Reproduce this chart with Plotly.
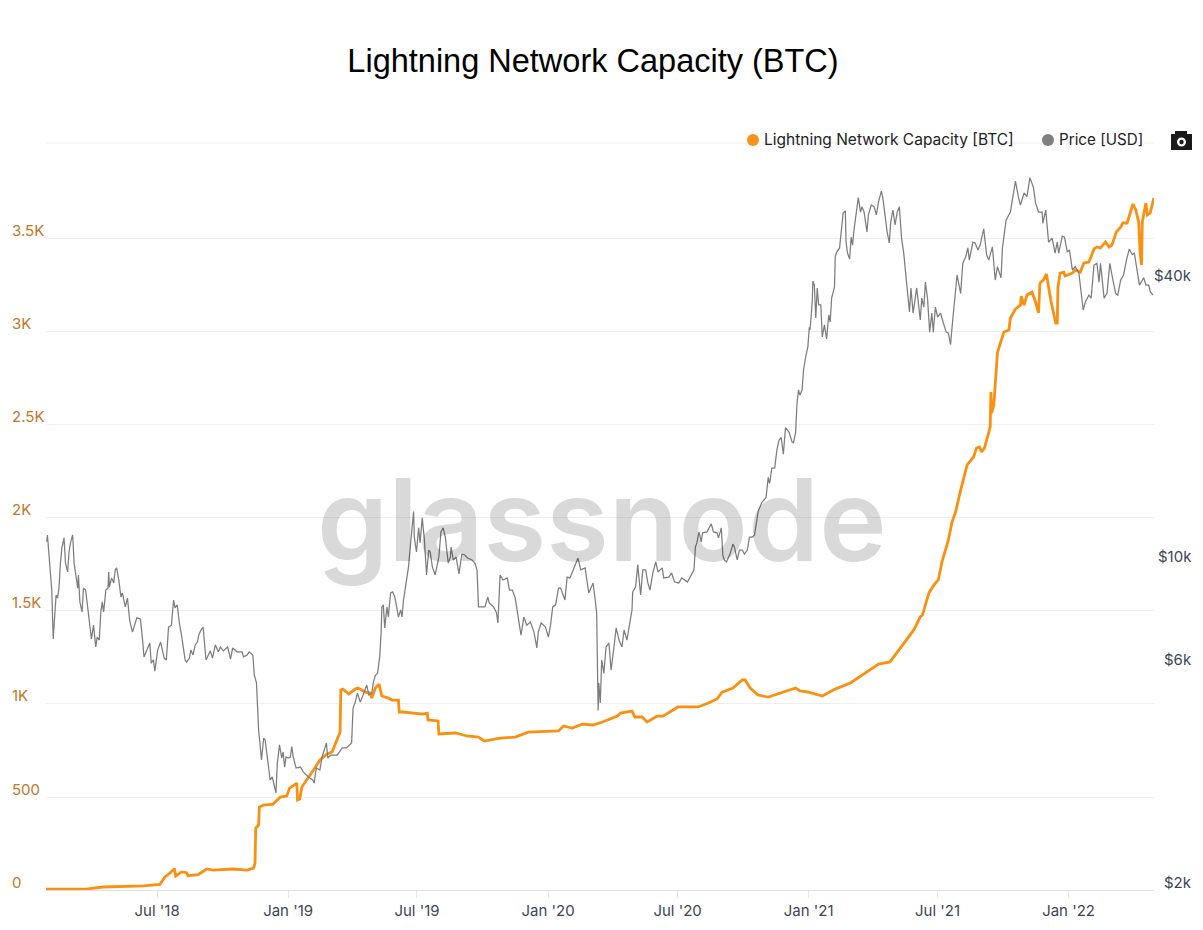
import numpy as np
import pandas as pd
import plotly.graph_objects as go

TITLE = "Lightning Network Capacity (BTC)"
START = "2018-01-26"
END = "2022-05-01"
DAY_UNIT = 1.0122

capacity_days = [0,56,79,135,158,165,172,178,180,188,195,197,211,223,232,260,279,288,290,291,295,296,302,315,325,334,338,348,349,352,355,364,373,380,390,397,406,408,409,412,420,429,433,443,450,452,457,462,466,475,480,489,490,495,523,529,530,544,545,568,584,600,608,630,651,669,711,718,730,744,759,772,793,797,813,817,827,834,848,856,877,905,919,931,938,953,966,970,977,988,1002,1033,1040,1046,1058,1077,1095,1116,1133,1155,1171,1185,1196,1204,1213,1216,1220,1225,1232,1238,1243,1252,1257,1262,1269,1278,1287,1291,1295,1298,1302,1308,1310,1311,1312,1315,1317,1320,1322,1329,1336,1338,1345,1352,1353,1357,1361,1368,1373,1377,1379,1384,1388,1394,1401,1403,1404,1407,1412,1414,1424,1428,1435,1440,1447,1454,1458,1463,1470,1475,1479,1485,1491,1494,1500,1505,1508,1512,1516,1518,1520,1521,1526,1528,1532,1537]
capacity_btc = [5,5,16,22,30,70,91,115,75,97,93,77,82,113,107,113,107,118,145,333,349,446,457,462,500,505,548,575,484,489,554,602,656,699,731,742,822,849,1075,1080,1054,1080,1086,1064,1059,1032,1086,1107,1043,1032,1021,1021,957,957,946,951,914,909,839,844,828,822,801,817,822,849,855,882,871,892,887,903,935,951,962,930,930,903,935,935,984,984,1005,1027,1064,1086,1129,1129,1086,1048,1037,1080,1086,1070,1064,1043,1080,1113,1156,1215,1226,1300,1355,1398,1468,1478,1532,1597,1640,1667,1763,1882,1978,2032,2150,2285,2328,2376,2382,2355,2376,2473,2489,2677,2564,2607,2742,2887,2914,3000,3011,3075,3123,3145,3193,3145,3199,3215,3161,3102,3263,3280,3312,3172,3048,3048,3242,3317,3322,3301,3317,3333,3322,3371,3376,3446,3457,3452,3484,3457,3468,3538,3564,3586,3586,3645,3688,3656,3591,3425,3360,3591,3693,3629,3640,3720]

price_days = [1,2,5,7,8,10,12,14,16,18,20,22,25,27,30,32,34,37,39,42,44,45,47,50,52,55,57,60,63,66,69,71,74,76,78,80,83,86,87,88,91,94,96,98,101,104,106,110,113,116,120,126,131,134,136,139,144,146,149,151,155,159,164,167,170,174,177,179,182,185,188,193,195,199,201,204,207,210,212,215,218,222,228,231,235,239,242,246,252,256,259,265,272,274,279,282,287,289,292,
295,296,299,302,304,307,311,314,319,321,324,327,329,331,333,336,339,341,343,347,353,357,364,370,372,375,380,383,387,389,391,395,404,411,417,422,424,426,429,432,436,440,445,448,452,
454,457,460,463,465,466,468,470,473,475,478,481,484,487,489,492,494,496,500,503,505,508,510,511,514,517,519,522,525,528,531,533,536,540,545,548,551,554,558,561,562,565,569,573,577,581,585,591,595,598,600,603,609,613,615,621,625,627,630,634,640,643,647,651,654,659,663,667,672,677,681,683,687,693,697,700,703,707,711,714,720,723,727,733,738,742,748,753,759,762,764,
766,767,769,771,774,777,781,784,788,791,795,799,802,806,810,813,
814,818,821,825,828,832,835,838,842,846,849,855,857,864,868,872,878,882,890,896,899,901,903,906,909,911,917,923,926,931,933,937,939,941,944,949,953,955,959,962,966,969,973,976,980,983,986,988,993,999,1002,1004,1007,1011,1014,1017,1020,1023,1026,1031,1035,1037,1040,1042,
1044,1046,1049,1051,1054,1057,1059,1060,1063,1064,1066,1068,1070,1072,1075,1077,1080,1083,1086,1088,1090,1094,1095,1097,1101,1103,1106,1109,1110,1112,1115,1117,1119,1121,1125,1127,1130,1132,1135,1139,1141,1145,1149,1152,1155,1159,1161,1164,1167,1170,1172,1175,1178,1181,1184,1187,1190,1193,1196,1198,1200,1203,1208,1211,1213,1215,1218,1220,1223,1226,1229,1231,1234,1237,1241,1245,1249,1252,1255,1257,1259,1262,1264,1269,1272,1276,1279,
1281,1286,1289,1293,1296,1301,1305,1308,1313,1317,1320,1325,1327,1330,1332,1338,1341,1345,1349,1352,1357,1361,1365,1370,1373,1377,1382,1383,1387,1391,1396,1400,1403,1405,1410,1413,1417,1420,1424,1428,1433,1439,1442,1447,1450,1454,1458,1461,1463,1468,1472,1476,1479,1484,1487,1491,1495,1499,1503,1507,1510,1514,1517,1523,1526,1530,1532,1536]
price_usd = [10750,11120,9680,8810,8470,6650,7380,8265,8140,8550,9680,10420,10960,9680,9260,10220,10690,11120,9680,9030,8550,9125,7985,7600,8550,8470,7985,7410,6650,7120,6390,6710,6614,7570,7985,7600,8470,8550,9260,8590,8990,8770,9355,9450,8900,8180,8350,7790,8140,7305,6880,7380,7340,6614,6085,6240,6520,5900,5995,5670,6300,6550,6050,5995,7050,7120,8062,7750,7870,7200,6780,5995,5930,6050,6300,6145,6455,6550,6780,6950,7050,5995,6270,6050,6455,6240,6390,6270,6390,6020,6360,6240,6240,6085,6145,6240,6145,5558,5350,
4240,4096,3656,4075,4035,3710,3312,3361,3106,3602,3938,3692,3803,3530,3710,3692,3710,3905,3710,3513,3530,3446,3361,3312,3262,3513,3480,3710,3880,3975,3692,3746,3746,3880,3880,3938,3975,4726,4867,5090,4867,5040,5296,5040,5090,
5350,5558,5610,6085,6880,7790,7870,7020,7790,7410,8350,8390,8180,7750,7410,7680,7410,8062,8900,9510,10320,11400,12480,11000,10220,11520,10690,12100,10850,9125,10320,10220,9510,9125,9970,11290,11520,11000,9680,9970,10480,9825,9970,9170,10120,10070,9920,9825,9680,9355,7790,7790,7790,8180,7950,7790,7570,7200,9125,8900,8990,8470,8470,8140,7570,6780,7410,7120,7230,6880,6360,6880,7200,7050,6710,7120,7790,7870,8550,8550,8062,9030,8990,9510,9920,9355,9450,8350,8770,8062,7570,
4670,5350,4846,5995,5610,6390,6520,5697,6390,7020,6614,6390,6950,6614,7200,7680,
8390,8590,9590,8265,9355,9355,8770,8470,9215,9730,9260,9450,8990,9030,9215,8810,8770,8990,8810,9215,9355,10480,10690,11290,10740,11240,11290,11750,11290,11240,10960,11520,10070,9825,9730,10120,10630,10480,9825,10320,10320,10120,10320,11000,11000,11120,11810,12480,13050,13380,14780,14340,15480,15480,16920,17780,18000,16570,18900,18470,17620,17540,18470,21350,
22780,22200,22780,25130,26800,28180,31040,30630,35000,39000,38230,32500,37700,34680,34680,29590,31400,29290,33000,31850,35860,37900,44000,45000,45950,49460,54600,55130,47300,44800,43500,48450,46600,50200,55420,58900,54880,56300,54880,49700,54100,56800,56300,54100,57650,60850,58900,53500,49700,47100,52200,55420,51500,54880,56300,48200,44800,40100,35860,33480,37700,33300,37700,33810,32170,35860,34300,38800,35860,30300,33300,30300,34300,32650,33300,31700,30300,30150,28500,31000,33810,37900,40200,36700,42600,44000,45950,
43280,47300,47100,45480,46600,50500,44450,43280,46200,39200,41900,39650,45950,50200,52730,54880,59200,63900,59200,56800,60300,59200,65000,62000,57350,54880,54880,51900,55420,47300,48200,44800,47300,44800,48700,48450,45000,45480,41200,41900,40600,33810,35200,36400,35860,42200,42600,38800,42600,35860,36700,42600,40100,36700,36400,39200,40200,43280,45700,44450,44800,40600,38230,39650,38230,38230,37000,36400]

x_tick_dates = ["2018-07-01","2019-01-01","2019-07-01","2020-01-01","2020-07-01","2021-01-01","2021-07-01","2022-01-01"]
x_tick_labels = ["Jul '18","Jan '19","Jul '19","Jan '20","Jul '20","Jan '21","Jul '21","Jan '22"]
left_ticks = [0,500,1000,1500,2000,2500,3000,3500]
left_labels = ["0","500","1K","1.5K","2K","2.5K","3K","3.5K"]
right_ticks = [2000,6000,10000,40000]
right_labels = ["$2k","$6k","$10k","$40k"]
legend_names = ["Lightning Network Capacity [BTC]","Price [USD]"]

W, H = 1203, 930
L, R, T, B = 46, 1154, 143, 890
def px(x): return (x - L) / (R - L)
def py(y): return (B - y) / (B - T)
def to_dates(days):
    return pd.Timestamp(START) + pd.to_timedelta(np.array(days) * DAY_UNIT, unit="D")

ORANGE = "#f7931a"
GRAY = "#7d7d7d"
FONT = "Inter, Liberation Sans, sans-serif"

fig = go.Figure()
fig.add_trace(go.Scatter(x=to_dates(capacity_days), y=capacity_btc, name=legend_names[0], mode="lines",
                         line=dict(color="#f9900f", width=2.8), yaxis="y", showlegend=False))
fig.add_trace(go.Scatter(x=to_dates(price_days), y=price_usd, name=legend_names[1], mode="lines",
                         line=dict(color=GRAY, width=1.25), yaxis="y2", showlegend=False))

ann = []
for v, t in zip(left_ticks, left_labels):
    ann.append(dict(x=px(10), xref="paper", xanchor="left", y=v, yref="y", yshift=8, yanchor="middle",
                    text=t, showarrow=False, font=dict(family=FONT, size=15, color="#c4762a")))
for v, t in zip(right_ticks, right_labels):
    ann.append(dict(x=px(1194), xref="paper", xanchor="right", y=np.log10(v), yref="y2", yanchor="middle",
                    text=t, showarrow=False, font=dict(family=FONT, size=15, color="#3c4654")))
ann.append(dict(x=px(602), y=py(519), xref="paper", yref="paper", text="glassnode", showarrow=False,
                xanchor="center", yanchor="middle",
                font=dict(family="Inter, Noto Sans, sans-serif", size=114, weight=600, color="rgba(0,0,0,0.15)")))
ann.append(dict(x=px(762), y=py(140), xref="paper", yref="paper", xanchor="left", yanchor="middle",
                text=legend_names[0], showarrow=False, font=dict(family=FONT, size=15.5, color="#222222")))
ann.append(dict(x=px(1056.5), y=py(140), xref="paper", yref="paper", xanchor="left", yanchor="middle",
                text=legend_names[1], showarrow=False, font=dict(family=FONT, size=15.2, color="#222222")))

def circle(cx, cy, r, color):
    return dict(type="circle", xref="paper", yref="paper", x0=px(cx-r), x1=px(cx+r), y0=py(cy+r), y1=py(cy-r),
                fillcolor=color, line=dict(width=0), layer="above")
def rect(x0, y0, x1, y1, color):
    return dict(type="rect", xref="paper", yref="paper", x0=px(x0), x1=px(x1), y0=py(y1), y1=py(y0),
                fillcolor=color, line=dict(width=0), layer="above")

shapes = [
    dict(type="line", xref="paper", yref="paper", x0=0, x1=1, y0=1, y1=1, line=dict(color="#eeeeee", width=1), layer="below"),
    circle(753, 140, 6, ORANGE),
    circle(1048, 140, 6, "#7f7f7f"),
    rect(1171, 134, 1192, 150, "#1a1a1a"),
    rect(1175, 131, 1187, 135, "#1a1a1a"),
    circle(1181.5, 142, 4.5, "#ffffff"),
    circle(1181.5, 142, 2.2, "#1a1a1a"),
]

fig.update_layout(
    width=W, height=H, autosize=False,
    margin=dict(l=L, r=W-R, t=T, b=H-B, pad=0),
    paper_bgcolor="white", plot_bgcolor="white",
    showlegend=False,
    title=dict(text=TITLE, x=593/W, y=1-61/H, xanchor="center", yanchor="middle",
               font=dict(family="Liberation Sans, Arial, sans-serif", size=32.5, color="#000000")),
    xaxis=dict(type="date", automargin=False, range=[START, END], tickmode="array", tickvals=x_tick_dates, ticktext=x_tick_labels,
               showgrid=False, zeroline=False, showline=True, linecolor="#e0e0e0", linewidth=1,
               ticks="outside", ticklen=7, tickcolor="#e6e6e6", tickwidth=1,
               tickfont=dict(family=FONT, size=15, color="#3c4654")),
    yaxis=dict(automargin=False, range=[0, 4016], tickmode="array", tickvals=left_ticks, showticklabels=False, ticks="",
               showgrid=True, gridcolor="#eeeeee", gridwidth=1, zeroline=False, showline=False),
    yaxis2=dict(automargin=False, type="log", range=[3.28386, 4.88755], overlaying="y", side="right", tickmode="array",
                tickvals=right_ticks, showticklabels=False, ticks="", showgrid=False, zeroline=False, showline=False),
    annotations=ann, shapes=shapes, hovermode="x",
)
fig.write_html("out.html", config={"displayModeBar": False},
               post_script="document.body.style.margin='0';document.documentElement.style.overflow='hidden';")
